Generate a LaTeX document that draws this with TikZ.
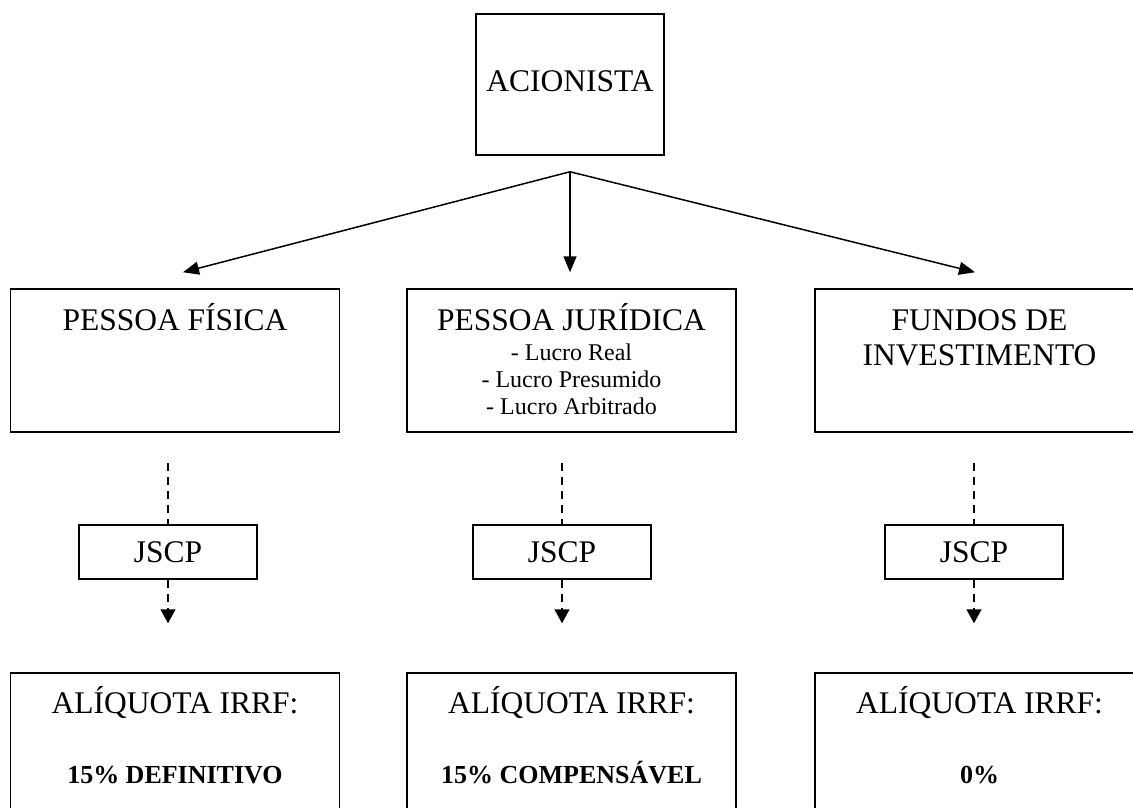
\documentclass[tikz,border=0pt]{standalone}
\usepackage{fontspec}
\setmainfont{Liberation Serif}
\usetikzlibrary{arrows.meta,positioning}

\newcommand{\subfont}{\fontsize{24}{27}\selectfont}
\newcommand{\ratefont}{\fontsize{26}{35}\selectfont\bfseries}

\begin{document}
\begin{tikzpicture}[x=1pt,y=-1pt,
    box/.style={draw,line width=1.5pt,inner sep=0pt,align=flush center,font=\fontsize{31.5}{35}\selectfont},
    catbox/.style={box,text width=329pt,text height=41pt,text depth=102pt},
    ratebox/.style={box,text width=329pt,text height=40pt,text depth=130pt},
    jbox/.style={box,minimum width=178pt,minimum height=54pt},
    arrow/.style={line width=1.5pt,-{Triangle[length=16pt,width=13pt]}},
    dashline/.style={line width=1.5pt,dash pattern=on 8pt off 6pt},
    dasharrow/.style={dashline,-{Triangle[length=14pt,width=15pt]}}]
  \useasboundingbox (0,0) rectangle (1133,808);

  % Shareholder
  \node[box,text width=188pt,text height=78pt,text depth=63pt] (acion) at (570,84.5) {ACIONISTA};
  \coordinate (fork) at ([yshift=-16pt]acion.south);

  % Categories
  \node[catbox] (pf) at (175,360.5) {PESSOA FÍSICA};
  \node[catbox] (pj) at (571.5,360.5) {PESSOA JURÍDICA\\[3pt]\subfont - Lucro Real\\- Lucro Presumido\\- Lucro Arbitrado\par};
  \node[catbox] (fi) at (979.5,360.5) {FUNDOS DE\\INVESTIMENTO};

  % JSCP
  \node[jbox] (j1) at (168,552) {JSCP};
  \node[jbox] (j2) at (562,552) {JSCP};
  \node[jbox] (j3) at (974,552) {JSCP};

  % Rates
  \node[ratebox] (a1) at (175,758) {ALÍQUOTA IRRF:\\[35pt]\ratefont 15\% DEFINITIVO};
  \node[ratebox] (a2) at (571.5,758) {ALÍQUOTA IRRF:\\[35pt]\ratefont 15\% COMPENSÁVEL};
  \node[ratebox] (a3) at (979.5,758) {ALÍQUOTA IRRF:\\[35pt]\ratefont 0\%};

  % Shareholder -> categories
  \draw[arrow] (fork) -- ([xshift=8pt,yshift=16pt]pf.north);
  \draw[arrow,shorten >=16pt] (fork) -- (fork |- pj.north);
  \draw[arrow] (fork) -- ([xshift=-4.5pt,yshift=16pt]fi.north);

  % Categories -> JSCP -> rates
  \draw[dashline,shorten <=30pt] (j1.north |- pf.south) -- (j1.north);
  \draw[dasharrow,shorten >=49pt] (j1.south) -- (j1.south |- a1.north);
  \draw[dashline,shorten <=30pt] (j2.north |- pj.south) -- (j2.north);
  \draw[dasharrow,shorten >=49pt] (j2.south) -- (j2.south |- a2.north);
  \draw[dashline,shorten <=30pt] (j3.north |- fi.south) -- (j3.north);
  \draw[dasharrow,shorten >=49pt] (j3.south) -- (j3.south |- a3.north);
\end{tikzpicture}
\end{document}
